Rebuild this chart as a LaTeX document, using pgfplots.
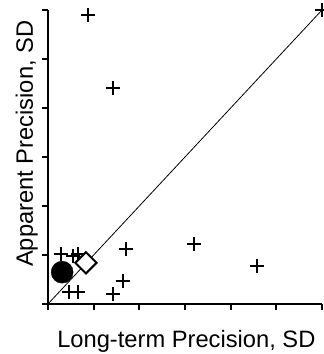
\documentclass[border=0pt]{standalone}
\usepackage{pgfplots}
\pgfplotsset{compat=1.18}
\usepackage{fontspec}
\setmainfont{Liberation Sans}
\begin{document}
\begin{tikzpicture}[x=1pt,y=1pt]
\begin{axis}[
  at={(48pt,50pt)}, anchor=south west,
  scale only axis, width=274pt, height=294pt,
  xmin=0, xmax=6, ymin=0, ymax=6,
  axis lines=left, axis line style={-, line width=2pt},
  xtick={0,...,6}, ytick={0,...,6},
  xticklabels={}, yticklabels={},
  tick align=outside, major tick length=6pt,
  tick style={line width=2pt, black},
  clip=false,
  xlabel={Long-term Precision, SD},
  ylabel={Apparent Precision, SD},
  label style={font=\fontsize{23.7}{28}\selectfont},
  xlabel style={at={(axis description cs:0.505,0)}, anchor=base, yshift=-43pt},
  ylabel style={at={(axis description cs:-0.055,0.545)}, anchor=base, rotate=0},
]
\addplot[black, line width=0.8pt, no marks] coordinates {(0,0) (6,6)};
\addplot[only marks, mark=+, mark size=7pt, line width=2pt, black] coordinates {
(0.88,5.90) (1.42,4.41) (6.0,6.0) (0.28,1.02) (0.55,0.98) (0.66,1.02)
(1.71,1.12) (1.64,0.47) (1.42,0.20) (0.46,0.24) (0.66,0.24) (3.20,1.22) (4.58,0.78)
};
\addplot[only marks, mark=*, mark size=11pt, black, fill=black] coordinates {(0.31,0.65)};
\addplot[only marks, mark=square*, mark size=7.5pt, mark options={rotate=45}, line width=2pt, draw=black, fill=white] coordinates {(0.83,0.84)};
\end{axis}
\pgfresetboundingbox
\useasboundingbox (0,0) rectangle (324pt,354pt);
\end{tikzpicture}
\end{document}
